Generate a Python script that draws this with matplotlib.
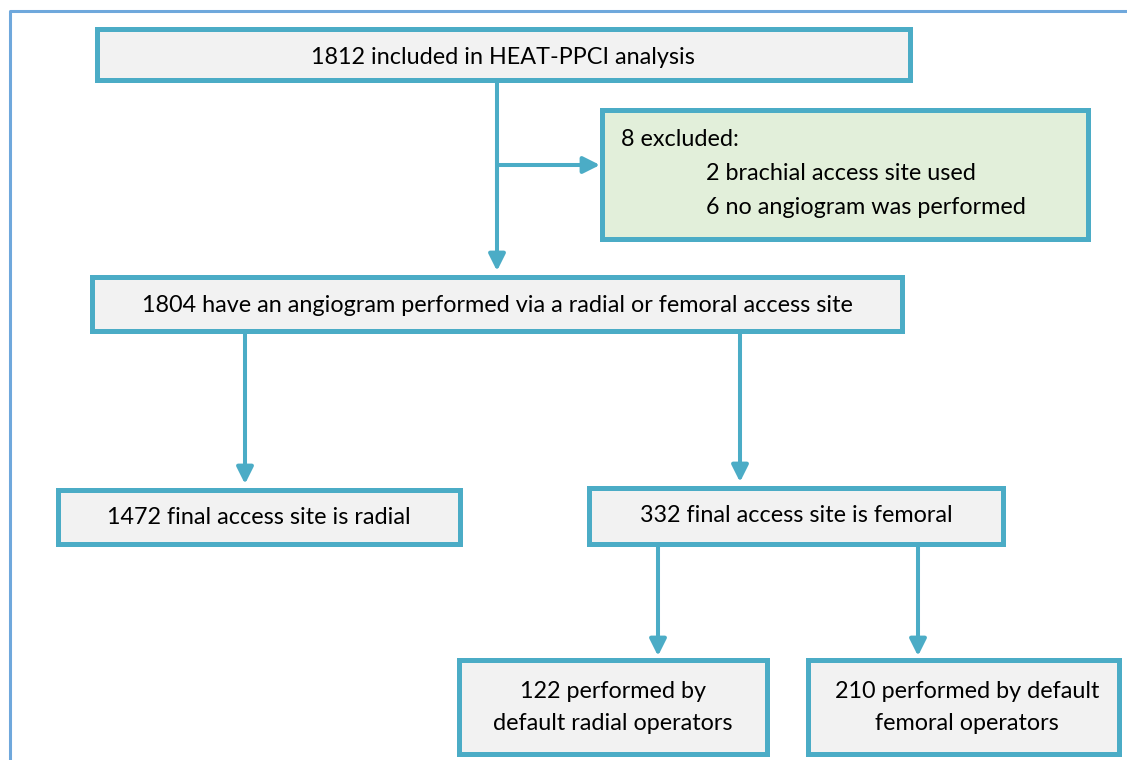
import matplotlib.pyplot as plt
from matplotlib.patches import Rectangle

# box texts
top_text = "1812 included in HEAT-PPCI analysis"
excluded_head = "8 excluded:"
excluded_lines = ["2 brachial access site used", "6 no angiogram was performed"]
middle_text = "1804 have an angiogram performed via a radial or femoral access site"
radial_text = "1472 final access site is radial"
femoral_text = "332 final access site is femoral"
bottom_left_lines = ["122 performed by", "default radial operators"]
bottom_right_lines = ["210 performed by default", "femoral operators"]

EDGE = '#4BACC6'
FILL = '#F2F2F2'
GREEN = '#E2EFDA'
FRAME = '#6FA8DC'
FONT = 'Lato'
FS = 16.8

fig = plt.figure(figsize=(11.27, 7.6), dpi=100)
ax = fig.add_axes([0, 0, 1, 1])
ax.set_xlim(0, 1127)
ax.set_ylim(760, 0)
ax.axis('off')

# outer frame (left and top only)
ax.plot([10, 10, 1127], [760, 11, 11], color=FRAME, lw=2.2, solid_capstyle='butt')


def box(x0, y0, x1, y1, fc=FILL):
    ax.add_patch(Rectangle((x0, y0), x1 - x0, y1 - y0, facecolor=fc,
                           edgecolor=EDGE, lw=3.6, joinstyle='miter'))


def arrow(x0, y0, x1, y1):
    ax.annotate('', xy=(x1, y1), xytext=(x0, y0),
                arrowprops=dict(arrowstyle='-|>,head_length=1.0,head_width=0.5',
                                color=EDGE, lw=2.9, shrinkA=0, shrinkB=0))


def label(x, y, s, ha='center'):
    ax.text(x, y + 2, s, ha=ha, va='center', fontsize=FS, family=FONT, color='black')


# arrows first so boxes cover the line ends
ax.plot([497, 497], [81, 200], color=EDGE, lw=2.9)
arrow(497, 150, 497, 271)
arrow(498, 165, 600, 165)
arrow(245, 332, 245, 484)
arrow(740, 332, 740, 482)
arrow(658, 545, 658, 656)
arrow(918, 545, 918, 656)

box(97, 29, 910, 80)
label(503, 55, top_text)

box(602, 110, 1088, 239, fc=GREEN)
label(621, 137, excluded_head, ha='left')
label(706, 171, excluded_lines[0], ha='left')
label(706, 206, excluded_lines[1], ha='left')

box(92, 277, 902, 331)
label(497, 303, middle_text)

box(58, 490, 460, 544)
label(259, 516, radial_text)

box(589, 488, 1003, 544)
label(796, 514, femoral_text)

box(459, 660, 767, 754)
label(613, 689, bottom_left_lines[0])
label(613, 722, bottom_left_lines[1])

box(808, 660, 1119, 754)
label(967, 689, bottom_right_lines[0])
label(967, 722, bottom_right_lines[1])

fig.savefig('out.png', dpi=100)
